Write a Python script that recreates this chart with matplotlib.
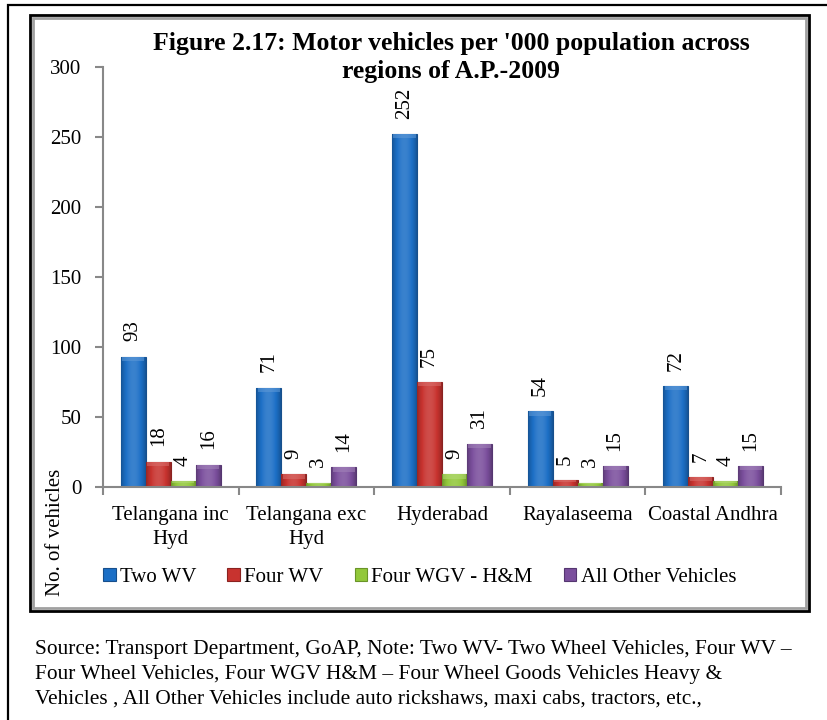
import matplotlib
matplotlib.use("Agg")
import matplotlib.pyplot as plt
import numpy as np
from matplotlib.patches import Rectangle
from matplotlib.colors import to_rgb

regions = ["Telangana inc\nHyd", "Telangana exc\nHyd", "Hyderabad", "Rayalaseema", "Coastal Andhra"]
series = ["Two WV", "Four WV", "Four WGV - H&M", "All Other Vehicles"]
two_wv = [93, 71, 252, 54, 72]
four_wv = [18, 9, 75, 5, 7]
four_wgv = [4, 3, 9, 3, 4]
other = [16, 14, 31, 15, 15]
colors = ["#1c6fc6", "#c8332f", "#92c83a", "#7b4f9d"]
edges = ["#174f8c", "#8a2220", "#6a9428", "#553670"]

title1 = "Figure 2.17: Motor vehicles per '000 population across"
title2 = "regions of A.P.-2009"
source_lines = ["Source: Transport Department, GoAP, Note: Two WV- Two Wheel Vehicles, Four WV \u2013",
                "Four Wheel Vehicles, Four WGV H&M \u2013 Four Wheel Goods Vehicles Heavy &",
                "Vehicles , All Other Vehicles include auto rickshaws, maxi cabs, tractors, etc.,"]

plt.rcParams['font.family'] = ['Liberation Serif', 'DejaVu Serif']

W, H = 827, 720
fig = plt.figure(figsize=(W/100, H/100), dpi=100)

def fx(px): return px / W
def fy(py): return 1 - py / H

def shade(c, f):
    c = np.array(to_rgb(c))
    if f >= 1:
        return c + (1 - c) * (f - 1)
    return c * f

# outer page border and chart frame
fig.add_artist(Rectangle((fx(8), fy(730)), fx(830) - fx(8), fy(5) - fy(730),
                         transform=fig.transFigure, fill=False, ec="black", lw=1.6))
fig.add_artist(Rectangle((fx(30), fy(611)), fx(809) - fx(30), fy(15) - fy(611),
                         transform=fig.transFigure, fill=False, ec="black", lw=2))
fig.add_artist(Rectangle((fx(33), fy(608)), fx(806) - fx(33), fy(18) - fy(608),
                         transform=fig.transFigure, fill=False, ec="#a0a0a0", lw=2))

ax = fig.add_axes([fx(103), fy(487), fx(781) - fx(103), fy(67) - fy(487)])

x = np.arange(len(regions))
w = 0.184
# horizontal shading across each bar: darker edges, lighter middle
t = np.linspace(0, 1, 40)
prof = 0.75 + 0.38 * np.sin(np.pi * t) ** 0.8
data = [two_wv, four_wv, four_wgv, other]
for i, vals in enumerate(data):
    pos = x + (i - 1.5) * w
    bars = ax.bar(pos, vals, width=w, color=colors[i], edgecolor=edges[i], lw=0.8,
                  label=series[i], zorder=3)
    grad = np.array([[shade(colors[i], f) for f in prof]])
    for b, v in zip(bars, vals):
        x0, x1 = b.get_x(), b.get_x() + b.get_width()
        im = ax.imshow(grad, extent=(x0, x1, 0, v), aspect="auto", zorder=3.1,
                       interpolation="bilinear")
        im.set_clip_path(b)
        cap = min(3.0, v * 0.35)
        ax.add_patch(Rectangle((x0 + 0.01, v - cap), x1 - x0 - 0.02, cap,
                               color=shade(colors[i], 1.3), alpha=0.55, lw=0, zorder=3.2))
        ax.text(b.get_x() + b.get_width() / 2, v + 11, str(v), rotation=90,
                ha="center", va="bottom", fontsize=15)

ax.set_xlim(-0.5, len(regions) - 0.5)
ax.set_ylim(0, 300)
ax.set_yticks(np.arange(0, 301, 50))
ax.set_xticks(x)
ax.set_xticklabels(regions, fontsize=15, linespacing=1.3)
ax.set_xticks(np.arange(-0.5, len(regions), 1), minor=True)
ax.tick_params(axis="x", which="major", length=0, pad=14)
ax.tick_params(axis="x", which="minor", length=6, color="#888888", width=1.5)
ax.tick_params(axis="y", length=6, color="#888888", width=1.5, labelsize=15, pad=9.5)
for s in ["top", "right"]:
    ax.spines[s].set_visible(False)
for s in ["left", "bottom"]:
    ax.spines[s].set_color("#888888")
    ax.spines[s].set_linewidth(1.5)
    ax.spines[s].set_zorder(4)
ax.patch.set_alpha(0)

fig.text(fx(451), fy(50), title1, ha="center", va="baseline", fontsize=18.5, fontweight="bold")
fig.text(fx(451), fy(78), title2, ha="center", va="baseline", fontsize=18.5, fontweight="bold")
fig.text(fx(55), fy(532), "No. of vehicles", rotation=90, ha="center", va="center",
         fontsize=15)

handles, labels = ax.get_legend_handles_labels()
fig.legend(handles, labels, loc="center left", bbox_to_anchor=(fx(103), fy(577)),
           ncol=4, frameon=False, fontsize=15, handlelength=0.6, handleheight=0.6,
           handletextpad=0.2, columnspacing=1.5, borderpad=0, borderaxespad=0)

for k, line in enumerate(source_lines):
    fig.text(fx(35), fy(654 + 25 * k), line, ha="left", va="baseline", fontsize=15.4)

fig.savefig("out.png", dpi=100)
